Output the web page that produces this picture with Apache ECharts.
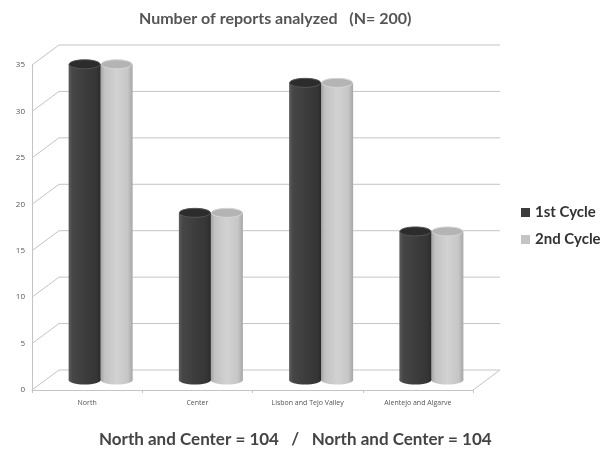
<!DOCTYPE html>
<html>
<head>
<meta charset="utf-8">
<script src="https://cdn.jsdelivr.net/npm/echarts@6/dist/echarts.min.js"></script>
<style>html,body{margin:0;padding:0;background:#fff}#c{width:609px;height:450px}</style>
</head>
<body>
<div id="c"></div>
<script>
const categories = ['North', 'Center', 'Lisbon and Tejo Valley', 'Alentejo and Algarve'];
const cycle1 = [34, 18, 32, 16];
const cycle2 = [34, 18, 32, 16];
const yTicks = [0, 5, 10, 15, 20, 25, 30, 35];
const seriesNames = ['1st Cycle', '2nd Cycle'];

const DX = 27, DY = 20, BW = 32, RY = 4.5;
const chart = echarts.init(document.getElementById('c'));

function frameItem(params, api) {
  const cs = params.coordSys;
  const v = api.value(1);
  const y = api.coord([0, v])[1];
  const x0 = cs.x, x1 = cs.x + cs.width;
  const st = { stroke: '#c4c4c4', lineWidth: 1 };
  const ch = [
    { type: 'line', shape: { x1: x0, y1: y, x2: x0 + DX, y2: y - DY }, style: st },
    { type: 'line', shape: { x1: x0 + DX, y1: y - DY, x2: x1 + DX, y2: y - DY }, style: st }
  ];
  if (v === 0) {
    ch.push({ type: 'line', shape: { x1: x1, y1: y, x2: x1 + DX, y2: y - DY }, style: st });
  }
  return { type: 'group', children: ch };
}

function cylinder(shift, stops, topFill, rim) {
  return function (params, api) {
    const i = api.value(0), v = api.value(1);
    const top = api.coord([i, v]);
    const base = api.coord([i, 0]);
    const cx = top[0] + DX / 2 + shift;
    const ty = top[1] - DY / 2;
    const by = base[1] - DY / 2;
    const rx = BW / 2;
    const grad = () => new echarts.graphic.LinearGradient(0, 0, 1, 0, stops);
    return {
      type: 'group',
      children: [
        { type: 'ellipse', shape: { cx: cx, cy: by, rx: rx, ry: RY }, style: { fill: grad() } },
        { type: 'rect', shape: { x: cx - rx, y: ty, width: BW, height: by - ty }, style: { fill: grad() } },
        { type: 'ellipse', shape: { cx: cx, cy: ty, rx: rx - 0.5, ry: RY }, style: { fill: topFill, stroke: rim, lineWidth: 1 } }
      ]
    };
  };
}

const darkStops = [
  { offset: 0, color: '#5c5c5c' }, { offset: 0.12, color: '#464646' },
  { offset: 0.5, color: '#3d3d3d' }, { offset: 0.88, color: '#353535' }, { offset: 1, color: '#2a2a2a' }
];
const lightStops = [
  { offset: 0, color: '#a4a4a4' }, { offset: 0.12, color: '#c2c2c2' },
  { offset: 0.5, color: '#d2d2d2' }, { offset: 0.85, color: '#c6c6c6' }, { offset: 1, color: '#a6a6a6' }
];

const option = {
  backgroundColor: '#fff',
  animation: false,
  title: [
    { text: 'Number of reports analyzed   (N= 200)', left: 134, top: 6,
      textStyle: { fontFamily: 'Lato', fontSize: 16, fontWeight: 'bold', color: '#555' } },
    { text: 'North and Center = 104   /   North and Center = 104', left: 94, top: 426,
      textStyle: { fontFamily: 'Lato', fontSize: 17, fontWeight: 'bold', color: '#444' } }
  ],
  legend: {
    data: seriesNames, orient: 'vertical', left: 516, top: 200, itemGap: 12,
    icon: 'rect', itemWidth: 9, itemHeight: 9,
    textStyle: { fontFamily: 'Lato', fontSize: 15, fontWeight: 'bold', color: '#333' }
  },
  grid: { left: 32, right: 136, top: 65, bottom: 60, containLabel: false },
  xAxis: {
    type: 'category', data: categories,
    axisLine: { show: true, lineStyle: { color: '#c4c4c4' } },
    axisTick: { show: true, length: 3, lineStyle: { color: '#c4c4c4' } },
    axisLabel: { fontFamily: 'Open Sans', fontSize: 7, color: '#555', margin: 9 }
  },
  yAxis: {
    type: 'value', min: 0, max: 35, interval: 5,
    axisLine: { show: true, lineStyle: { color: '#c4c4c4' } },
    axisTick: { show: false },
    splitLine: { show: false },
    axisLabel: { fontFamily: 'Open Sans', fontSize: 8, color: '#555', margin: 7 }
  },
  series: [
    { type: 'custom', name: 'frame', renderItem: frameItem, z: 1, silent: true,
      encode: { x: 0, y: 1 }, data: yTicks.map(v => [0, v]) },
    { type: 'custom', name: seriesNames[1], renderItem: cylinder(16, lightStops, '#b4b4b4', '#d6d6d6'), z: 2,
      itemStyle: { color: '#c4c4c4' }, encode: { x: 0, y: 1 }, data: cycle2.map((v, i) => [i, v]) },
    { type: 'custom', name: seriesNames[0], renderItem: cylinder(-16, darkStops, '#2c2c2c', '#555'), z: 3,
      itemStyle: { color: '#3c3c3c' }, encode: { x: 0, y: 1 }, data: cycle1.map((v, i) => [i, v]) }
  ]
};
chart.setOption(option);
</script>
</body>
</html>
